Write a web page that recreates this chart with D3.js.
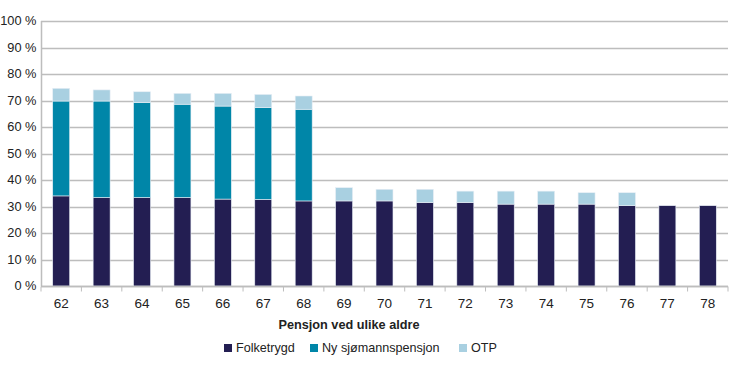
<!DOCTYPE html>
<head>
    <meta charset="UTF-8">
    <title>Pensjon ved ulike aldre</title>
    <style>
        body { margin: 0; background: #fff; }
        text { font-family: "Liberation Sans", Arial, sans-serif; fill: #222; }
    </style>
</head>
<body>
    <script src="https://cdn.jsdelivr.net/npm/d3@7/dist/d3.min.js"></script>
    <script>
        // data
        var ages = ["62","63","64","65","66","67","68","69","70","71","72","73","74","75","76","77","78"]
        var folketrygd = [34.0, 33.4, 33.4, 33.4, 32.8, 32.7, 32.1, 32.1, 32.1, 31.5, 31.5, 30.9, 30.9, 30.9, 30.3, 30.3, 30.3]
        var nySjomann = [35.8, 36.4, 35.8, 35.2, 35.1, 34.6, 34.6, 0, 0, 0, 0, 0, 0, 0, 0, 0, 0]
        var otp = [4.8, 4.2, 4.1, 4.1, 4.8, 5.0, 5.0, 5.0, 4.4, 5.0, 4.3, 4.9, 4.9, 4.3, 4.9, 0, 0]
        var seriesNames = ["Folketrygd", "Ny sjømannspensjon", "OTP"]
        var yTicks = [0, 10, 20, 30, 40, 50, 60, 70, 80, 90, 100]
        var colors = ["#231e52", "#0086a8", "#a9d0e1"]

        var width = 730, height = 372
        var margin = {top: 21, right: 2, bottom: 86, left: 41}

        var svg = d3.select("body").append("svg")
            .attr("width", width).attr("height", height)

        var x = d3.scaleBand().domain(ages)
            .range([margin.left, width - margin.right])
            .paddingInner(0.58).paddingOuter(0.29)
        var y = d3.scaleLinear().domain([0, 100])
            .range([height - margin.bottom, margin.top])

        // gridlines
        svg.append("g").selectAll("line")
            .data(yTicks).enter().append("line")
            .attr("x1", margin.left).attr("x2", width - margin.right)
            .attr("y1", function(d){ return Math.round(y(d)) + 0.5 })
            .attr("y2", function(d){ return Math.round(y(d)) + 0.5 })
            .attr("stroke", "#bdbdbd").attr("stroke-width", 1.5)

        // y labels
        svg.append("g").selectAll("text")
            .data(yTicks).enter().append("text")
            .attr("x", 36.5)
            .attr("y", function(d){ return y(d) })
            .attr("dy", "0.35em")
            .attr("text-anchor", "end")
            .attr("font-size", "12.8px")
            .text(function(d){ return d + " %" })

        // stack
        var rows = ages.map(function(a, i){
            return {age: a, "Folketrygd": folketrygd[i], "Ny sjømannspensjon": nySjomann[i], "OTP": otp[i]}
        })
        var stacked = d3.stack().keys(seriesNames)(rows)

        svg.append("g").selectAll("g")
            .data(stacked).enter().append("g")
            .attr("fill", function(d, i){ return colors[i] })
            .selectAll("rect")
            .data(function(d){ return d.filter(function(p){ return p[1] - p[0] > 0 }) })
            .enter().append("rect")
            .attr("x", function(d){ return x(d.data.age) })
            .attr("width", x.bandwidth())
            .attr("y", function(d){ return y(d[1]) })
            .attr("height", function(d){ return y(d[0]) - y(d[1]) })
            .attr("stroke", "#e8eef5").attr("stroke-width", 0.6)

        // left axis line
        svg.append("line")
            .attr("x1", margin.left + 0.5).attr("x2", margin.left + 0.5)
            .attr("y1", y(100)).attr("y2", y(0))
            .attr("stroke", "#bdbdbd").attr("stroke-width", 1.5)

        // x axis
        var step = x.step()
        var xAxis = svg.append("g")
            .attr("transform", "translate(0," + (Math.round(y(0)) + 0.5) + ")")
        xAxis.append("line")
            .attr("x1", margin.left).attr("x2", width - margin.right)
            .attr("stroke", "#bdbdbd").attr("stroke-width", 1.5)
        xAxis.selectAll("line.tick")
            .data(d3.range(ages.length + 1)).enter().append("line")
            .attr("class", "tick")
            .attr("x1", function(i){ return margin.left + i * step })
            .attr("x2", function(i){ return margin.left + i * step })
            .attr("y1", 0).attr("y2", 5)
            .attr("stroke", "#bdbdbd").attr("stroke-width", 1)
        xAxis.selectAll("text")
            .data(ages).enter().append("text")
            .attr("x", function(d){ return x(d) + x.bandwidth() / 2 })
            .attr("y", 21.5)
            .attr("text-anchor", "middle")
            .attr("font-size", "13.5px")
            .text(function(d){ return d })

        // axis title
        svg.append("text")
            .attr("x", 349).attr("y", 329)
            .attr("text-anchor", "middle")
            .attr("font-size", "12.7px")
            .attr("font-weight", "bold")
            .text("Pensjon ved ulike aldre")

        // legend
        var legendX = [224, 310, 459]
        var legend = svg.append("g").selectAll("g")
            .data(seriesNames).enter().append("g")
            .attr("transform", function(d, i){ return "translate(" + legendX[i] + ",348)" })
        legend.append("rect")
            .attr("x", 0).attr("y", -4).attr("width", 8).attr("height", 8)
            .attr("fill", function(d, i){ return colors[i] })
        legend.append("text")
            .attr("x", 12).attr("dy", "0.35em")
            .attr("font-size", "12.6px")
            .text(function(d){ return d })
    </script>
</body>
</html>
